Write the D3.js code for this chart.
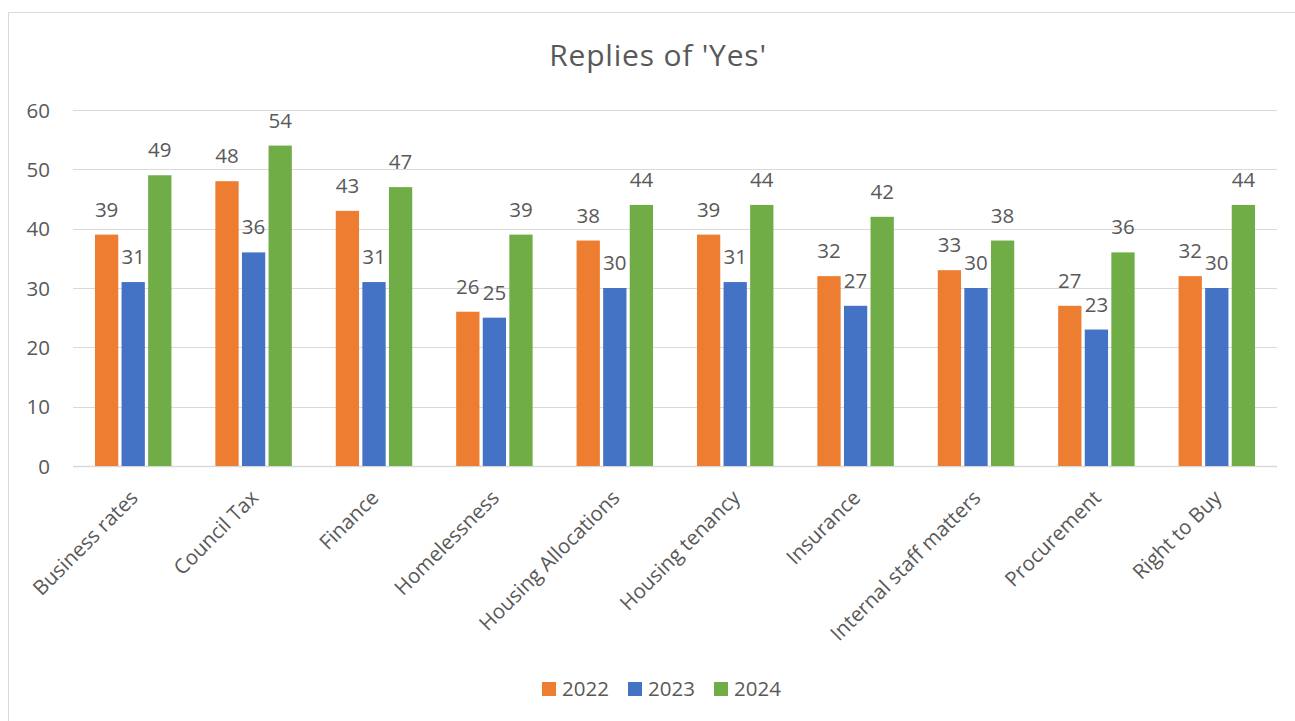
<!DOCTYPE html>
<html>
<head>
<meta charset="utf-8">
<script src="https://cdn.jsdelivr.net/npm/d3@7"></script>
<style>
  html, body { margin: 0; padding: 0; background: #ffffff; }
  svg { display: block; }
  text { font-family: "Open Sans", "Liberation Sans", sans-serif; fill: #595959; }
</style>
</head>
<body>
<svg id="chart" width="1295" height="721"></svg>
<script>
const categories = ["Business rates", "Council Tax", "Finance", "Homelessness", "Housing Allocations",
  "Housing tenancy", "Insurance", "Internal staff matters", "Procurement", "Right to Buy"];
const seriesNames = ["2022", "2023", "2024"];
const values2022 = [39, 48, 43, 26, 38, 39, 32, 33, 27, 32];
const values2023 = [31, 36, 31, 25, 30, 31, 27, 30, 23, 30];
const values2024 = [49, 54, 47, 39, 44, 44, 42, 38, 36, 44];
const yTicks = [0, 10, 20, 30, 40, 50, 60];
const colors = ["#ED7D31", "#4472C4", "#70AD47"];
const title = "Replies of 'Yes'";

const seriesValues = [values2022, values2023, values2024];

const W = 1295, H = 721;
const FS = 20.5;
const svg = d3.select("#chart");

// chart border
svg.append("rect")
  .attr("x", 8.5).attr("y", 12.5)
  .attr("width", W + 20).attr("height", H + 20)
  .attr("fill", "#ffffff").attr("stroke", "#d9d9d9").attr("stroke-width", 1);

const plot = { left: 73, right: 1277, top: 110, bottom: 466 };

const x = d3.scaleBand()
  .domain(categories)
  .range([plot.left, plot.right])
  .paddingInner(0.365)
  .paddingOuter(0.1825);

const xs = d3.scaleBand()
  .domain(seriesNames)
  .range([0, x.bandwidth()])
  .paddingInner(0.124)
  .paddingOuter(0);

const y = d3.scaleLinear().domain([0, 60]).range([plot.bottom, plot.top]);

// gridlines
svg.append("g")
  .selectAll("line")
  .data(yTicks)
  .join("line")
  .attr("x1", plot.left).attr("x2", plot.right)
  .attr("y1", d => Math.round(y(d)) + 0.5).attr("y2", d => Math.round(y(d)) + 0.5)
  .attr("stroke", "#d9d9d9")
  .attr("stroke-width", d => d === 0 ? 1.5 : 1);

// y axis labels
const yAxis = d3.axisLeft(y).tickValues(yTicks).tickSize(0).tickPadding(0);
const yg = svg.append("g").attr("transform", `translate(${plot.left - 23},0)`).call(yAxis);
yg.select(".domain").remove();
yg.selectAll("text")
  .attr("font-size", FS)
  .attr("fill", "#595959")
  .attr("font-family", '"Open Sans", "Liberation Sans", sans-serif')
  .attr("dy", "0.35em");

// bars
const groups = svg.append("g")
  .selectAll("g")
  .data(seriesNames)
  .join("g")
  .attr("fill", (d, i) => colors[i]);

groups.each(function(s, si) {
  const g = d3.select(this);
  const data = categories.map((c, ci) => ({ c, v: seriesValues[si][ci] }));
  g.selectAll("rect")
    .data(data)
    .join("rect")
    .attr("x", d => x(d.c) + xs(s))
    .attr("y", d => y(d.v))
    .attr("width", xs.bandwidth())
    .attr("height", d => y(0) - y(d.v));
  g.selectAll("text")
    .data(data)
    .join("text")
    .attr("x", d => x(d.c) + xs(s) + xs.bandwidth() / 2)
    .attr("y", d => y(d.v) - 18)
    .attr("text-anchor", "middle")
    .attr("font-size", FS)
    .attr("fill", "#404040")
    .text(d => d.v);
});

// x axis labels
const xAxis = d3.axisBottom(x).tickSize(0).tickPadding(0);
const xg = svg.append("g").attr("transform", `translate(0,${plot.bottom})`).call(xAxis);
xg.select(".domain").remove();
xg.selectAll(".tick text")
  .attr("font-size", FS)
  .attr("fill", "#595959")
  .attr("font-family", '"Open Sans", "Liberation Sans", sans-serif')
  .attr("text-anchor", "end")
  .attr("y", 0).attr("dy", 0)
  .attr("transform", "translate(6,33) rotate(-45)");

// title
svg.append("text")
  .attr("x", 658).attr("y", 66)
  .attr("text-anchor", "middle")
  .attr("font-size", 30)
  .attr("letter-spacing", 0.8)
  .attr("fill", "#595959")
  .text(title);

// legend
const legendX = [542, 628, 714];
const lg = svg.append("g")
  .selectAll("g")
  .data(seriesNames)
  .join("g")
  .attr("transform", (d, i) => `translate(${legendX[i]},682)`);
lg.append("rect").attr("width", 14).attr("height", 14).attr("fill", (d, i) => colors[i]);
lg.append("text")
  .attr("x", 20).attr("y", 7).attr("dy", "0.35em")
  .attr("font-size", FS)
  .attr("fill", "#595959")
  .text(d => d);
</script>
</body>
</html>
